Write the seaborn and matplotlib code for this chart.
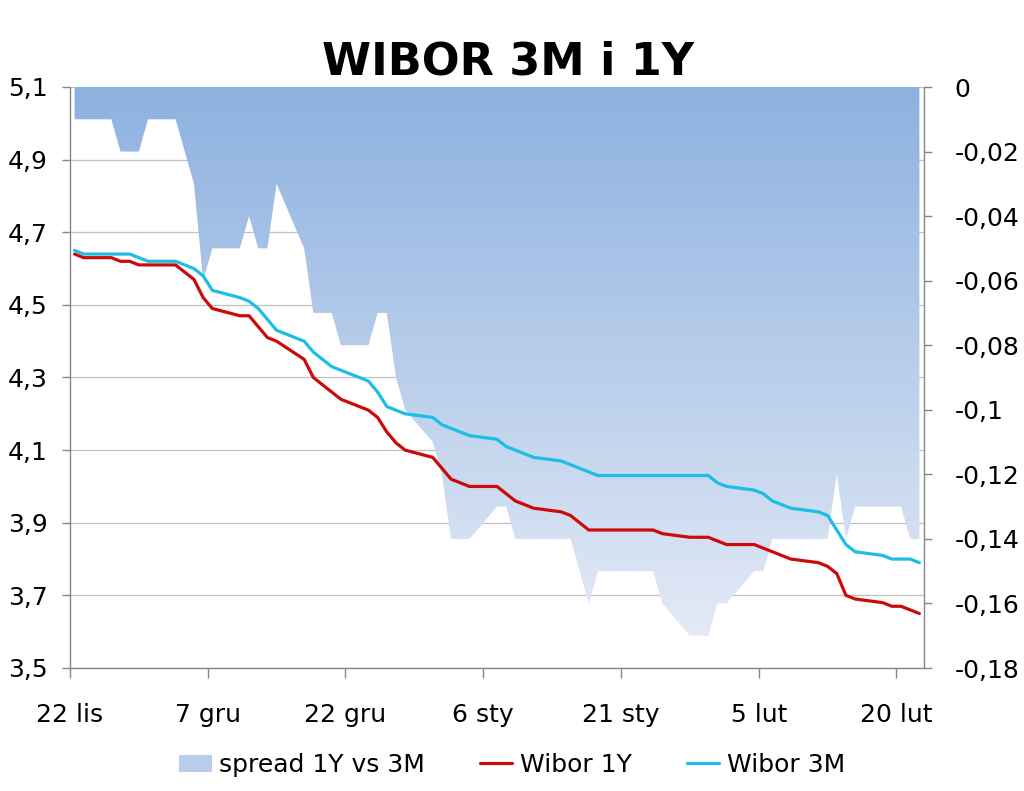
import numpy as np
import pandas as pd
import matplotlib
matplotlib.use("Agg")
import matplotlib.pyplot as plt
import matplotlib.dates as mdates
from matplotlib.colors import LinearSegmentedColormap
from matplotlib.patches import Patch
from matplotlib.lines import Line2D
from matplotlib.ticker import FuncFormatter, FixedLocator
import seaborn as sns

# weekdays 22.11.2012 - 22.02.2013
dates = pd.bdate_range("2012-11-22", "2013-02-22")

wibor_3m = [4.65, 4.64, 4.64, 4.64, 4.64, 4.63, 4.62, 4.62, 4.61, 4.60,
            4.58, 4.54, 4.52, 4.51, 4.49, 4.46, 4.43, 4.40, 4.37, 4.35,
            4.33, 4.32, 4.29, 4.26, 4.22, 4.21, 4.20, 4.19, 4.17, 4.16,
            4.15, 4.14, 4.13, 4.11, 4.10, 4.09, 4.08, 4.07, 4.06, 4.05,
            4.04, 4.03, 4.03, 4.03, 4.03, 4.03, 4.03, 4.03, 4.03, 4.03,
            4.01, 4.00, 3.99, 3.98, 3.96, 3.95, 3.94, 3.93, 3.92, 3.88,
            3.84, 3.82, 3.81, 3.80, 3.80, 3.80, 3.79]

wibor_1y = [4.64, 4.63, 4.63, 4.62, 4.62, 4.61, 4.61, 4.61, 4.59, 4.57,
            4.52, 4.49, 4.47, 4.47, 4.44, 4.41, 4.40, 4.35, 4.30, 4.28,
            4.26, 4.24, 4.21, 4.19, 4.15, 4.12, 4.10, 4.08, 4.05, 4.02,
            4.01, 4.00, 4.00, 3.98, 3.96, 3.95, 3.94, 3.93, 3.92, 3.90,
            3.88, 3.88, 3.88, 3.88, 3.88, 3.88, 3.87, 3.86, 3.86, 3.86,
            3.85, 3.84, 3.84, 3.83, 3.82, 3.81, 3.80, 3.79, 3.78, 3.76,
            3.70, 3.69, 3.68, 3.67, 3.67, 3.66, 3.65]

spread = [-0.01, -0.01, -0.01, -0.02, -0.02, -0.02, -0.01, -0.01, -0.02, -0.03,
          -0.06, -0.05, -0.05, -0.04, -0.05, -0.05, -0.03, -0.05, -0.07, -0.07,
          -0.07, -0.08, -0.08, -0.07, -0.07, -0.09, -0.10, -0.11, -0.12, -0.14,
          -0.14, -0.14, -0.13, -0.13, -0.14, -0.14, -0.14, -0.14, -0.14, -0.15,
          -0.16, -0.15, -0.15, -0.15, -0.15, -0.15, -0.16, -0.17, -0.17, -0.17,
          -0.16, -0.16, -0.15, -0.15, -0.14, -0.14, -0.14, -0.14, -0.14, -0.12,
          -0.14, -0.13, -0.13, -0.13, -0.13, -0.14, -0.14]

tick_dates = ["2012-11-22", "2012-12-07", "2012-12-22", "2013-01-06",
              "2013-01-21", "2013-02-05", "2013-02-20"]
tick_labels = ["22 lis", "7 gru", "22 gru", "6 sty", "21 sty", "5 lut", "20 lut"]

df = pd.DataFrame({"date": dates, "w3m": wibor_3m, "w1y": wibor_1y, "spread": spread})
# Excel date axis: each point sits in the middle of its day slot
df["x"] = df["date"] + pd.Timedelta(hours=12)

sns.set_style("white")
plt.rcParams["font.family"] = ["DejaVu Sans"]
plt.rcParams["text.color"] = "black"
plt.rcParams["xtick.labelcolor"] = "black"
plt.rcParams["ytick.labelcolor"] = "black"

c_red = "#CC0A0A"
c_cyan = "#1DBDE6"
c_grid = "#C0C0C0"
c_spine = "#868686"

fig = plt.figure(figsize=(10.24, 7.91), dpi=100)
axg = fig.add_axes([70 / 1024, 1 - 668 / 791, 854 / 1024, 581 / 791])
ax2 = axg.twinx()   # spread area, right axis
ax = axg.twinx()    # lines, left scale

# grid axes
axg.set_ylim(3.5, 5.1)
axg.yaxis.set_major_locator(FixedLocator(np.arange(3.5, 5.11, 0.2)))
axg.yaxis.set_major_formatter(FuncFormatter(lambda v, p: f"{v:.1f}".replace(".", ",")))
axg.grid(axis="y", color=c_grid, linewidth=0.9)
axg.grid(axis="x", visible=False)

# spread area with vertical gradient
x_num = mdates.date2num(df["x"])
poly = ax2.fill_between(x_num, df["spread"], 0, color="none", linewidth=0)
grad = np.linspace(0, 1, 256).reshape(-1, 1)
cmap = LinearSegmentedColormap.from_list("sp", ["#8DB1E0", "#E3EAF6"])
im = ax2.imshow(grad, cmap=cmap, aspect="auto", origin="upper",
                extent=[x_num[0] - 1, x_num[-1] + 1, df["spread"].min(), 0],
                interpolation="bilinear", zorder=1)
im.set_clip_path(poly.get_paths()[0], transform=ax2.transData)
ax2.set_ylim(-0.18, 0)
ax2.yaxis.set_major_locator(FixedLocator(np.arange(-0.18, 0.001, 0.02)))
ax2.yaxis.set_major_formatter(FuncFormatter(
    lambda v, p: "0" if abs(v) < 1e-9 else f"{round(v, 2):g}".replace(".", ",")))

# lines
sns.lineplot(data=df, x="x", y="w1y", ax=ax, color=c_red, linewidth=2.3)
sns.lineplot(data=df, x="x", y="w3m", ax=ax, color=c_cyan, linewidth=2.3)
ax.set_ylim(3.5, 5.1)
ax.yaxis.set_visible(False)
ax.set_xlabel("")
ax.set_ylabel("")

axg.set_xlim(pd.Timestamp("2012-11-22"), pd.Timestamp("2013-02-23"))
axg.set_xticks(pd.to_datetime(tick_dates))
axg.set_xticklabels(tick_labels)

for a in (axg, ax2, ax):
    for s in a.spines.values():
        s.set_visible(False)
axg.spines["left"].set_visible(True)
axg.spines["bottom"].set_visible(True)
ax2.spines["right"].set_visible(True)
for s in (axg.spines["left"], axg.spines["bottom"], ax2.spines["right"]):
    s.set_color(c_spine)
    s.set_linewidth(1.0)

axg.tick_params(axis="y", direction="out", length=6, width=1, color=c_spine,
                labelsize=18, pad=10, left=True)
axg.tick_params(axis="x", direction="out", length=7, width=1, color=c_spine,
                labelsize=18, pad=18, bottom=True)
ax2.tick_params(axis="y", direction="out", length=6, width=1, color=c_spine,
                labelsize=18, pad=16, right=True)

fig.text(0.496, 1 - 62 / 791, "WIBOR 3M i 1Y", ha="center", va="center",
         fontsize=32, fontweight="bold", color="black")

handles = [Patch(facecolor="#B8CCEC", edgecolor="none"),
           Line2D([0], [0], color=c_red, linewidth=2.3),
           Line2D([0], [0], color=c_cyan, linewidth=2.3)]
fig.legend(handles, ["spread 1Y vs 3M", "Wibor 1Y", "Wibor 3M"],
           loc="center", bbox_to_anchor=(0.5, 1 - 765 / 791), ncol=3,
           frameon=False, fontsize=18, handlelength=1.3, handletextpad=0.3,
           columnspacing=2.2)

fig.savefig("out.png", dpi=100)
